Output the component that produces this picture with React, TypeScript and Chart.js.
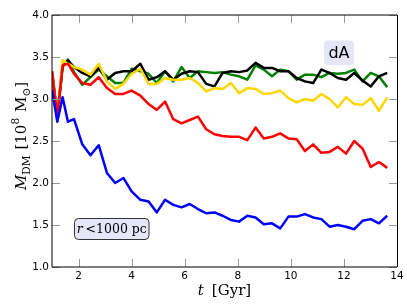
import { useEffect, useRef } from "react";
import { Chart, registerables } from "chart.js";

Chart.register(...registerables);

// ---- data ----
const times = [
  1.0, 1.2, 1.4, 1.6, 1.83, 2.14, 2.45, 2.76, 3.07, 3.38, 3.69, 4.0,
  4.33, 4.64, 4.95, 5.26, 5.57, 5.88, 6.19, 6.5, 6.81, 7.12,
  7.43, 7.74, 8.05, 8.36, 8.67, 8.98, 9.29, 9.6, 9.91, 10.22,
  10.53, 10.84, 11.15, 11.46, 11.77, 12.08, 12.39, 12.7, 13.01, 13.32,
  13.63,
];

const blueVals = [
  3.11, 2.73, 3.02, 2.73, 2.76, 2.46, 2.33, 2.45, 2.12, 2.0, 2.06, 1.9,
  1.8, 1.78, 1.65, 1.8, 1.74, 1.71, 1.75, 1.69, 1.64, 1.65,
  1.61, 1.56, 1.54, 1.61, 1.59, 1.51, 1.52, 1.46, 1.6, 1.6,
  1.63, 1.59, 1.57, 1.48, 1.5, 1.48, 1.45, 1.55, 1.57, 1.52,
  1.61,
];

const redVals = [
  3.33, 2.8, 3.4, 3.42, 3.3, 3.19, 3.17, 3.26, 3.13, 3.06, 3.06, 3.1,
  3.04, 2.94, 2.87, 2.97, 2.76, 2.71, 2.75, 2.79, 2.64, 2.58,
  2.56, 2.55, 2.55, 2.51, 2.66, 2.53, 2.55, 2.59, 2.53, 2.52,
  2.38, 2.46, 2.36, 2.37, 2.43, 2.35, 2.5, 2.41, 2.19, 2.25,
  2.18,
];

const yellowVals = [
  3.33, 2.8, 3.46, 3.42, 3.38, 3.35, 3.29, 3.42, 3.21, 3.12, 3.18, 3.3,
  3.36, 3.18, 3.18, 3.25, 3.23, 3.23, 3.25, 3.19, 3.09, 3.13,
  3.12, 3.19, 3.07, 3.13, 3.12, 3.06, 3.07, 3.1, 3.01, 2.96,
  3.0, 2.98, 3.06, 3.0, 2.9, 3.02, 2.94, 2.93, 3.01, 2.86,
  3.02,
];

const blackVals = [
  3.33, 2.8, 3.4, 3.46, 3.38, 3.31, 3.27, 3.37, 3.23, 3.31, 3.33, 3.33,
  3.42, 3.23, 3.26, 3.33, 3.23, 3.3, 3.33, 3.32, 3.18, 3.15,
  3.31, 3.33, 3.32, 3.34, 3.43, 3.37, 3.37, 3.33, 3.33, 3.25,
  3.21, 3.19, 3.35, 3.31, 3.25, 3.23, 3.31, 3.22, 3.15, 3.27,
  3.31,
];

const greenVals = [
  3.33, 2.78, 3.38, 3.47, 3.32, 3.17, 3.26, 3.35, 3.27, 3.19, 3.19, 3.36,
  3.33, 3.3, 3.19, 3.33, 3.21, 3.38, 3.25, 3.33, 3.32, 3.31,
  3.32, 3.29, 3.27, 3.23, 3.4, 3.35, 3.27, 3.35, 3.33, 3.23,
  3.29, 3.29, 3.26, 3.31, 3.3, 3.31, 3.35, 3.21, 3.31, 3.27,
  3.14,
];

const xTickValues = [2, 4, 6, 8, 10, 12, 14];
const yTickValues = [1.0, 1.5, 2.0, 2.5, 3.0, 3.5, 4.0];

const seriesList = [
  { name: "blue", values: blueVals, color: "#0000ff" },
  { name: "red", values: redVals, color: "#ff0000" },
  { name: "yellow", values: yellowVals, color: "#ffd700" },
  { name: "black", values: blackVals, color: "#000000" },
  { name: "green", values: greenVals, color: "#008000" },
];

const galaxyLabel = "dA";
const radiusLabel = ["r", "<1000 pc"];

// ---- helpers ----
const SERIF = '"DejaVu Serif", serif';
const SANS = '"DejaVu Sans", sans-serif';

type Run = { t?: string; size?: number; italic?: boolean; dy?: number; gap?: number };

function fontOf(r: Run) {
  return `${r.italic ? "italic " : ""}${r.size}px ${SERIF}`;
}
function runsWidth(ctx: CanvasRenderingContext2D, runs: Run[]) {
  let w = 0;
  for (const r of runs) {
    if (r.gap) { w += r.gap; continue; }
    ctx.font = fontOf(r);
    w += ctx.measureText(r.t || "").width;
  }
  return w;
}
function drawRuns(ctx: CanvasRenderingContext2D, runs: Run[], x: number, y: number) {
  let cx = x;
  for (const r of runs) {
    if (r.gap) { cx += r.gap; continue; }
    ctx.font = fontOf(r);
    ctx.fillText(r.t || "", cx, y + (r.dy || 0));
    cx += ctx.measureText(r.t || "").width;
  }
}

const yTitle: Run[] = [
  { t: "M", size: 15, italic: true },
  { t: "DM", size: 10.5, dy: 3.5 },
  { gap: 6 },
  { t: "[10", size: 15 },
  { t: "8", size: 10.5, dy: -7 },
  { gap: 6 },
  { t: "M", size: 15 },
  { t: "\u2299", size: 10.5, dy: 3.5 },
  { t: "]", size: 15 },
];

const xTitle: Run[] = [
  { t: "t", size: 15, italic: true },
  { gap: 8 },
  { t: "[Gyr]", size: 15 },
];

const decorations = {
  id: "decorations",
  afterDatasetsDraw(chart: any) {
    const { ctx, chartArea: a, scales } = chart;
    const xs = scales.x;
    const ys = scales.y;
    ctx.save();

    // inward ticks on all four sides
    ctx.strokeStyle = "#999";
    ctx.lineWidth = 1;
    ctx.beginPath();
    for (const v of xTickValues) {
      const p = Math.round(xs.getPixelForValue(v)) + 0.5;
      ctx.moveTo(p, a.bottom); ctx.lineTo(p, a.bottom - 8);
      ctx.moveTo(p, a.top); ctx.lineTo(p, a.top + 8);
    }
    for (const v of yTickValues) {
      const p = Math.round(ys.getPixelForValue(v)) + 0.5;
      ctx.moveTo(a.left, p); ctx.lineTo(a.left + 8, p);
      ctx.moveTo(a.right, p); ctx.lineTo(a.right - 8, p);
    }
    ctx.stroke();

    // frame
    ctx.strokeStyle = "#000";
    ctx.lineWidth = 1;
    ctx.beginPath();
    ctx.moveTo(a.left, a.top); ctx.lineTo(a.left, a.bottom);
    ctx.moveTo(a.left, a.bottom); ctx.lineTo(a.right, a.bottom);
    ctx.moveTo(a.left, a.top); ctx.lineTo(a.right, a.top);
    ctx.moveTo(a.right + 0.5, a.top); ctx.lineTo(a.right + 0.5, a.bottom);
    ctx.stroke();

    // axis titles
    ctx.fillStyle = "#000";
    ctx.textBaseline = "alphabetic";
    ctx.textAlign = "left";
    const xw = runsWidth(ctx, xTitle);
    const xc = (a.left + a.right) / 2;
    drawRuns(ctx, xTitle, xc - xw / 2, 295);

    const yw = runsWidth(ctx, yTitle);
    ctx.save();
    ctx.translate(26, (a.top + a.bottom) / 2 - 5);
    ctx.rotate(-Math.PI / 2);
    drawRuns(ctx, yTitle, -yw / 2, 0);
    ctx.restore();

    // "dA" box
    ctx.fillStyle = "#e6e6fa";
    ctx.beginPath();
    (ctx as any).roundRect(324, 40.5, 30, 24.5, 4);
    ctx.fill();
    ctx.fillStyle = "#000";
    ctx.font = `16px ${SANS}`;
    ctx.textAlign = "center";
    ctx.fillText(galaxyLabel, 339, 58);

    // "r < 1000 pc" box
    ctx.beginPath();
    (ctx as any).roundRect(74.5, 218.5, 74.5, 21, 4);
    ctx.fillStyle = "#e6e6fa";
    ctx.fill();
    ctx.strokeStyle = "#333";
    ctx.lineWidth = 1;
    ctx.stroke();
    ctx.fillStyle = "#000";
    ctx.textAlign = "left";
    const rRuns: Run[] = [
      { t: radiusLabel[0], size: 12.5, italic: true },
      { gap: 3 },
      { t: radiusLabel[1], size: 12.5 },
    ];
    const rw = runsWidth(ctx, rRuns);
    drawRuns(ctx, rRuns, 111.75 - rw / 2, 233);

    ctx.restore();
  },
};

export default function App() {
  const ref = useRef<HTMLCanvasElement | null>(null);

  useEffect(() => {
    if (!ref.current) return;
    const chart = new Chart(ref.current, {
      type: "line",
      data: {
        datasets: seriesList.map((s) => ({
          label: s.name,
          data: times.map((t, i) => ({ x: t, y: s.values[i] })),
          borderColor: s.color,
          backgroundColor: s.color,
          borderWidth: 2.5,
          pointRadius: 0,
          tension: 0,
          fill: false,
          borderJoinStyle: "round" as const,
        })),
      },
      options: {
        responsive: false,
        animation: false,
        events: [],
        layout: { padding: { top: 15, right: 10, left: 0, bottom: 0 } },
        plugins: { legend: { display: false }, tooltip: { enabled: false } },
        scales: {
          x: {
            type: "linear",
            min: 1,
            max: 14,
            grid: { display: false, drawTicks: false },
            border: { display: false },
            afterBuildTicks: (s: any) => {
              s.ticks = xTickValues.map((v) => ({ value: v }));
            },
            afterFit: (s: any) => {
              s.height = 38;
            },
            ticks: {
              padding: 3,
              color: "#000",
              autoSkip: false,
              maxRotation: 0,
              font: { family: "DejaVu Sans", size: 10.5 },
              callback: (v: any) => String(v),
            },
          },
          y: {
            type: "linear",
            min: 1,
            max: 4,
            grid: { display: false, drawTicks: false },
            border: { display: false },
            afterBuildTicks: (s: any) => {
              s.ticks = yTickValues.map((v) => ({ value: v }));
            },
            afterFit: (s: any) => {
              s.width = 52;
            },
            ticks: {
              padding: 3,
              color: "#000",
              autoSkip: false,
              font: { family: "DejaVu Sans", size: 10.5 },
              callback: (v: any) => Number(v).toFixed(1),
            },
          },
        },
      },
      plugins: [decorations],
    });
    return () => chart.destroy();
  }, []);

  return (
    <div style={{ position: "absolute", left: 0, top: 0, width: 407, height: 305, background: "#fff" }}>
      <canvas ref={ref} width={407} height={305} style={{ display: "block" }} />
    </div>
  );
}
